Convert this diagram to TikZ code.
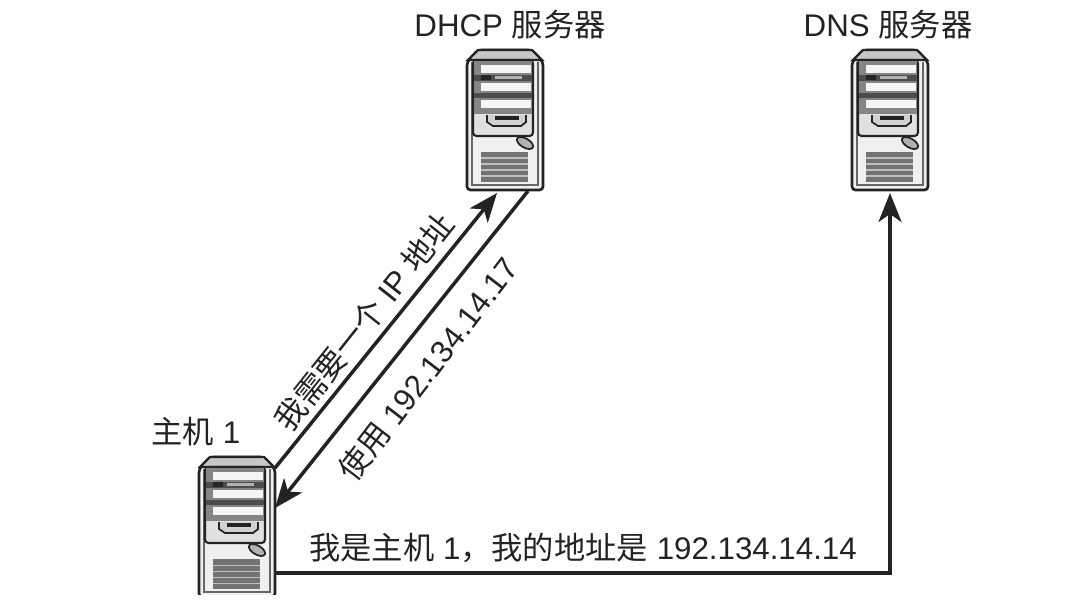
\documentclass[tikz,border=0pt]{standalone}
\usepackage{fontspec}
\setmainfont{Liberation Sans}
\newfontfamily\cjk{Noto Sans CJK SC}
\usetikzlibrary{arrows.meta}
\definecolor{inkgray}{RGB}{35,35,35}
\newcommand{\zh}[1]{{\cjk #1}}
\tikzset{
  towerbox/.style={minimum width=1.52cm,minimum height=2.84cm,inner sep=0pt,outer sep=0pt},
  link/.style={draw=inkgray,line width=2pt,-{Stealth[length=5.8mm,width=4.6mm,inset=1.6mm]}},
  caption/.style={text=inkgray,inner sep=0pt,font=\fontsize{17.8}{20}\selectfont},
  tower/.pic={
    % body
    \draw[inkgray,line width=1.5pt,fill=black!6,rounded corners=2pt] (0,14)--(11,2)--(65,2)--(76,14)--(76,142)--(0,142)--cycle;
    \draw[inkgray,line width=1.3pt,fill=black!22] (1,12)--(11,2)--(65,2)--(75,12)--cycle;
    \draw[black!60,line width=1pt] (5,14)--(5,137)--(71,137)--(71,14);
    % front panel
    \draw[inkgray,line width=1.2pt,fill=black!12,rounded corners=2pt] (6,12) rectangle (66,88);
    \fill[black!48] (7,13) rectangle (65,66);
    \fill[black!70] (7,27) rectangle (65,33);
    \fill[black!70] (7,45) rectangle (65,50);
    \foreach \y in {17,35,52} \fill[black!4] (14,\y) rectangle (64,\y+8);
    \fill[black!30] (28,28) rectangle (55,31);
    \fill[black!85] (14,27) rectangle (24,32);
    % slot
    \draw[inkgray,line width=1pt,fill=black!18] (20,67)--(20,74)--(26,78)--(54,78)--(59,74)--(59,67);
    \fill[inkgray] (28,68) rectangle (52,72);
    % badge
    \draw[inkgray,line width=1pt,fill=black!30,rotate around={-30:(58,95)}] (58,95) ellipse (9 and 4.5);
    % grille
    \fill[black!55] (14,104) rectangle (61,134);
    \foreach \y in {110,116,...,128} \draw[black!25,line width=.6pt] (14,\y)--(61,\y);
  }
}
\begin{document}
\begin{tikzpicture}[x=0.02cm,y=-0.02cm]
\useasboundingbox (0,0) rectangle (1082,600);
\node[towerbox] (dhcp) at (505,119) {};
\node[towerbox] (dns) at (890,119) {};
\node[towerbox] (host) at (237,526) {};
\pic at (dhcp.north west) {tower};
\pic at (dns.north west) {tower};
\begin{scope}
\clip (0,0) rectangle (1082,594);
\pic at (host.north west) {tower};
\end{scope}
\coordinate (dhcpin) at ([shift={(-8,3)}]dhcp.south);
\coordinate (dhcpout) at ([shift={(23,1)}]dhcp.south);
\coordinate (hostout) at ([yshift=-0.26cm]host.north east);
\coordinate (hostin) at ([yshift=-1.06cm]host.north east);
\coordinate (hostdns) at ([yshift=-0.94cm]host.east);
\coordinate (dnsin) at ([yshift=-0.06cm]dns.south);
\draw[link] (hostout) -- (dhcpin);
\draw[link] (dhcpout) -- (hostin);
\draw[link] (hostdns) -| (dnsin);
\node[caption] (dhcplabel) at (510,25) {DHCP \zh{服务器}};
\node[caption] (dnslabel) at (888,25) {DNS \zh{服务器}};
\node[caption] (hostlabel) at (196,432) {\zh{主机} 1};
\node[caption,rotate=51.5] (asklabel) at (364,322) {\zh{我需要一个} IP \zh{地址}};
\node[caption,rotate=52.5] (uselabel) at (428,369) {\zh{使用} 192.134.14.17};
\node[caption] (selflabel) at (583,548) {\zh{我是主机} 1\zh{，我的地址是} 192.134.14.14};
\end{tikzpicture}
\end{document}
